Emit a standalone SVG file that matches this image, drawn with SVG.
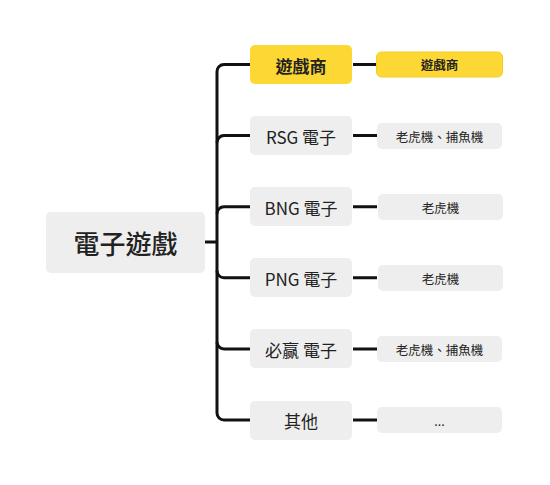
<svg xmlns="http://www.w3.org/2000/svg" width="550" height="485" viewBox="0 0 550 485">
<style>
text{font-family:"Noto Sans CJK TC","Noto Sans",sans-serif;fill:#222;text-anchor:middle;dominant-baseline:central}
.g{fill:#eeeeee}
.y{fill:#fdd835}
.c{fill:none;stroke:#111;stroke-width:3;stroke-linecap:butt}
.t1{font-size:26px;font-weight:500}
.t2{font-size:17px}
.t3{font-size:12.5px}
</style>
<rect width="550" height="485" fill="#fff"/>
<g id="connectors">
<path class="c" d="M205 242H217"/>
<path class="c" d="M250 64.5H224a7 7 0 0 0-7 7V413a7 7 0 0 0 7 7H250"/>
<path class="c" d="M217 142.6a7 7 0 0 1 7-7H250"/>
<path class="c" d="M217 213.7a7 7 0 0 1 7-7H250"/>
<path class="c" d="M217 270.8a7 7 0 0 0 7 7H250"/>
<path class="c" d="M217 341.9a7 7 0 0 0 7 7H250"/>
<path class="c" d="M353 64.5H377M353 135.6H377M353 206.7H377M353 277.8H377M353 348.9H377M353 420H377"/>
</g>
<g id="root"><rect class="g" x="46" y="212" width="159" height="61" rx="5"/><text class="t1" x="125.5" y="242.5">電子遊戲</text></g>
<g id="n1"><rect class="y" x="250" y="45" width="102" height="39" rx="5"/><text class="t2" x="301" y="65" font-weight="bold">遊戲商</text></g>
<g id="n2"><rect class="g" x="250" y="116" width="102" height="39" rx="5"/><text class="t2" x="301" y="136">RSG 電子</text></g>
<g id="n3"><rect class="g" x="250" y="187" width="102" height="39" rx="5"/><text class="t2" x="301" y="207">BNG 電子</text></g>
<g id="n4"><rect class="g" x="250" y="258" width="102" height="39" rx="5"/><text class="t2" x="301" y="278">PNG 電子</text></g>
<g id="n5"><rect class="g" x="250" y="329" width="102" height="39" rx="5"/><text class="t2" x="301" y="349">必赢 電子</text></g>
<g id="n6"><rect class="g" x="250" y="401" width="102" height="39" rx="5"/><text class="t2" x="301" y="420">其他</text></g>
<g id="m1"><rect class="y" x="376.5" y="52" width="126" height="25" rx="5" stroke="#f5cc20" stroke-width="1"/><text class="t3" x="439.5" y="64.5" font-weight="bold">遊戲商</text></g>
<g id="m2"><rect class="g" x="377" y="123" width="125" height="26" rx="5"/><text class="t3" x="439.5" y="136">老虎機、捕魚機</text></g>
<g id="m3"><rect class="g" x="378" y="194" width="125" height="26" rx="5"/><text class="t3" x="440.5" y="207">老虎機</text></g>
<g id="m4"><rect class="g" x="378" y="265" width="125" height="26" rx="5"/><text class="t3" x="440.5" y="278">老虎機</text></g>
<g id="m5"><rect class="g" x="377" y="336" width="125" height="26" rx="5"/><text class="t3" x="439.5" y="349">老虎機、捕魚機</text></g>
<g id="m6"><rect class="g" x="377" y="407" width="125" height="26" rx="5"/><text class="t3" x="439.5" y="420">...</text></g>
</svg>
